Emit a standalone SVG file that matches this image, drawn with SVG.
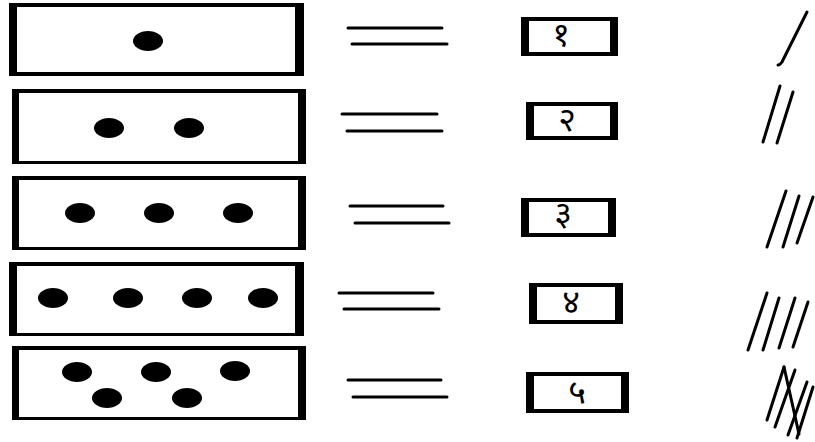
<svg xmlns="http://www.w3.org/2000/svg" width="815" height="442" viewBox="0 0 815 442">
<style>
.frame{fill:#000}
.inner{fill:#fff}
.dot{fill:#000}
.eq{stroke:#000;stroke-width:3;stroke-linecap:round;fill:none}
.tally{stroke:#000;stroke-width:3;stroke-linecap:round;fill:none}
.num{font-family:"Noto Sans Devanagari","Noto Sans","DejaVu Sans",sans-serif;font-size:34px;fill:#000;text-anchor:middle}
</style>
<rect width="815" height="442" fill="#fff"/>

<g id="row1-dots">
<rect class="frame" x="9" y="3" width="295" height="73"/>
<rect class="inner" x="17" y="7" width="278" height="65"/>
<ellipse class="dot" cx="148" cy="41" rx="15" ry="10"/>
</g>
<g id="row2-dots">
<rect class="frame" x="12" y="89" width="294" height="75"/>
<rect class="inner" x="19" y="93" width="279" height="68"/>
<ellipse class="dot" cx="109" cy="128" rx="15" ry="10"/>
<ellipse class="dot" cx="189" cy="128" rx="15" ry="10"/>
</g>
<g id="row3-dots">
<rect class="frame" x="12" y="176" width="294" height="74"/>
<rect class="inner" x="19" y="180" width="279" height="67"/>
<ellipse class="dot" cx="80" cy="213" rx="15" ry="10"/>
<ellipse class="dot" cx="159" cy="213" rx="15" ry="10"/>
<ellipse class="dot" cx="238" cy="213" rx="15" ry="10"/>
</g>
<g id="row4-dots">
<rect class="frame" x="9" y="262" width="295" height="74"/>
<rect class="inner" x="17" y="266" width="278" height="67"/>
<ellipse class="dot" cx="53" cy="298" rx="15" ry="10"/>
<ellipse class="dot" cx="128" cy="298" rx="15" ry="10"/>
<ellipse class="dot" cx="197" cy="298" rx="15" ry="10"/>
<ellipse class="dot" cx="263" cy="298" rx="15" ry="10"/>
</g>
<g id="row5-dots">
<rect class="frame" x="12" y="346" width="294" height="74"/>
<rect class="inner" x="19" y="350" width="279" height="67"/>
<ellipse class="dot" cx="77" cy="372" rx="15" ry="10"/>
<ellipse class="dot" cx="156" cy="372" rx="15" ry="10"/>
<ellipse class="dot" cx="235" cy="371" rx="15" ry="10"/>
<ellipse class="dot" cx="107" cy="398" rx="15" ry="10"/>
<ellipse class="dot" cx="187" cy="398" rx="15" ry="10"/>
</g>

<g id="connectors">
<line class="eq" x1="348" y1="28" x2="442" y2="28"/>
<line class="eq" x1="352" y1="44" x2="447" y2="44"/>
<line class="eq" x1="342" y1="114" x2="437" y2="114"/>
<line class="eq" x1="347" y1="131" x2="442" y2="131"/>
<line class="eq" x1="350" y1="206" x2="443" y2="206"/>
<line class="eq" x1="355" y1="223" x2="449" y2="223"/>
<line class="eq" x1="339" y1="293" x2="433" y2="293"/>
<line class="eq" x1="344" y1="309" x2="439" y2="309"/>
<line class="eq" x1="348" y1="380" x2="441" y2="380"/>
<line class="eq" x1="353" y1="397" x2="447" y2="397"/>
</g>

<g id="num1">
<rect class="frame" x="521" y="17" width="97" height="39"/>
<rect class="inner" x="529" y="21" width="81" height="31"/>
<text class="num" x="561" y="46">१</text>
</g>
<g id="num2">
<rect class="frame" x="526" y="102" width="92" height="38"/>
<rect class="inner" x="534" y="106" width="76" height="30"/>
<text class="num" x="567" y="131">२</text>
</g>
<g id="num3">
<rect class="frame" x="521" y="198" width="95" height="39"/>
<rect class="inner" x="529" y="202" width="79" height="31"/>
<text class="num" x="563" y="225">३</text>
</g>
<g id="num4">
<rect class="frame" x="529" y="283" width="94" height="41"/>
<rect class="inner" x="537" y="287" width="78" height="33"/>
<text class="num" x="571" y="313">४</text>
</g>
<g id="num5">
<rect class="frame" x="526" y="372" width="103" height="41"/>
<rect class="inner" x="534" y="376" width="87" height="33"/>
<text class="num" x="577" y="404">५</text>
</g>

<g id="tally1">
<path class="tally" d="M807 12 L782 62 Q780 65 778 65"/>
</g>
<g id="tally2">
<line class="tally" x1="780" y1="86" x2="763" y2="142"/>
<line class="tally" x1="793" y1="92" x2="777" y2="143"/>
</g>
<g id="tally3">
<line class="tally" x1="786" y1="191" x2="767" y2="247"/>
<line class="tally" x1="799" y1="196" x2="783" y2="247"/>
<line class="tally" x1="813" y1="197" x2="797" y2="243"/>
</g>
<g id="tally4">
<line class="tally" x1="767" y1="293" x2="748" y2="350"/>
<line class="tally" x1="779" y1="298" x2="763" y2="350"/>
<line class="tally" x1="795" y1="298" x2="779" y2="348"/>
<line class="tally" x1="808" y1="302" x2="793" y2="347"/>
</g>
<g id="tally5">
<line class="tally" x1="784" y1="367" x2="767" y2="420"/>
<line class="tally" x1="795" y1="370" x2="775" y2="427"/>
<line class="tally" x1="807" y1="382" x2="788" y2="435"/>
<line class="tally" x1="813" y1="387" x2="797" y2="438"/>
<line class="tally" x1="784" y1="367" x2="799" y2="434"/>
</g>
</svg>
